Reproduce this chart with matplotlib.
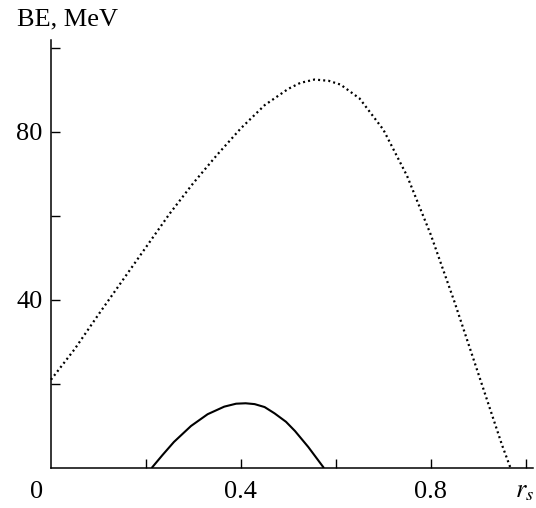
import matplotlib
matplotlib.use("Agg")
import matplotlib.pyplot as plt
from matplotlib.ticker import FixedLocator, NullFormatter

plt.rcParams['font.family'] = ['Liberation Serif', 'DejaVu Serif']
plt.rcParams['mathtext.fontset'] = 'stix'

# binding energy vs r_s, two model curves
rs_dot = [0.0, 0.05, 0.10, 0.15, 0.20, 0.25, 0.30, 0.35, 0.40, 0.45,
          0.50, 0.525, 0.555, 0.585, 0.61, 0.65, 0.70, 0.75, 0.80, 0.85,
          0.90, 0.95, 0.968]
be_dot = [21.0, 28.3, 36.5, 44.5, 52.5, 60.5, 67.8, 74.5, 80.8, 86.3,
          90.2, 91.6, 92.4, 92.1, 91.2, 87.9, 80.5, 69.5, 55.5, 39.5,
          22.5, 5.5, 0.0]

rs_sol = [0.212, 0.235, 0.259, 0.295, 0.330, 0.365, 0.390, 0.410, 0.429,
          0.450, 0.471, 0.495, 0.514, 0.542, 0.575]
be_sol = [0.0, 3.1, 6.2, 10.0, 12.8, 14.6, 15.3, 15.4, 15.2,
          14.5, 13.0, 11.0, 8.8, 5.0, 0.0]

xticks = [0.4, 0.8]
xlabels = ['0.4', '0.8']
xminor = [0.2, 0.6, 1.0]
yticks = [40, 80]
ylabels = ['40', '80']
yminor = [20, 60, 100]

fig = plt.figure(figsize=(5.36, 5.08), dpi=100)
ax = fig.add_axes([0.0951, 0.0787, 0.899, 0.8425])

ax.plot(rs_dot, be_dot, color='black', lw=1.6, linestyle=(0, (0.9, 1.4)),
        clip_on=False)
ax.plot(rs_sol, be_sol, color='black', lw=1.5, solid_capstyle='butt')

ax.set_xlim(0, 1.015)
ax.set_ylim(0, 101.8)

for s in ['top', 'right']:
    ax.spines[s].set_visible(False)
for s in ['left', 'bottom']:
    ax.spines[s].set_linewidth(1.1)

ax.set_xticks(xticks)
ax.set_xticklabels(xlabels)
ax.xaxis.set_minor_locator(FixedLocator(xminor))
ax.set_yticks(yticks)
ax.set_yticklabels(ylabels)
ax.yaxis.set_minor_locator(FixedLocator(yminor))
ax.xaxis.set_minor_formatter(NullFormatter())
ax.yaxis.set_minor_formatter(NullFormatter())

ax.tick_params(which='both', direction='in', length=6.5, width=1.0,
               labelsize=19)
ax.tick_params(axis='x', which='both', pad=9)
ax.tick_params(axis='y', which='both', pad=6)

ax.annotate('0', xy=(0, 0), xycoords='data', xytext=(-10.4, -17.3),
            textcoords='offset points', ha='center', va='center',
            fontsize=19)

ax.annotate('$r_s$', xy=(1.0, 0), xycoords='data', xytext=(-7.5, -17.3),
            textcoords='offset points', ha='left', va='center',
            fontsize=19)

fig.text(17 / 536, 1 - 25 / 508, 'BE, MeV', ha='left', va='baseline',
         fontsize=19)

fig.savefig('out.png', dpi=100)
